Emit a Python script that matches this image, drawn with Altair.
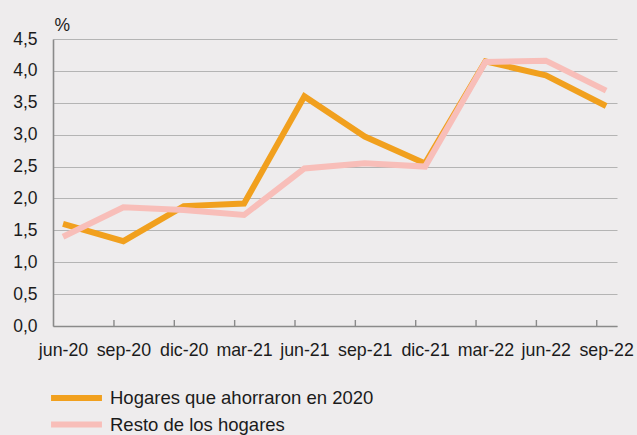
import altair as alt
import pandas as pd

# Quarterly series (%)
periods = ["jun-20", "sep-20", "dic-20", "mar-21", "jun-21",
           "sep-21", "dic-21", "mar-22", "jun-22", "sep-22"]
ahorraron = [1.60, 1.33, 1.88, 1.92, 3.60, 2.97, 2.55, 4.15, 3.93, 3.45]
resto = [1.40, 1.86, 1.82, 1.74, 2.47, 2.55, 2.50, 4.14, 4.16, 3.69]

series_names = ["Hogares que ahorraron en 2020", "Resto de los hogares"]
series_colors = ["#F1A01E", "#F8BEB9"]
y_ticks = [0.0, 0.5, 1.0, 1.5, 2.0, 2.5, 3.0, 3.5, 4.0, 4.5]

FONT = "Liberation Sans"
TEXT = "#1b1b1b"
AXIS_GREY = "#8a8a8a"
GRID_GREY = "#b4b4b4"

rows = []
for name, vals in zip(series_names, [ahorraron, resto]):
    for i, (p, v) in enumerate(zip(periods, vals)):
        rows.append({"idx": i, "periodo": p, "serie": name, "valor": v})
df = pd.DataFrame(rows)
ticks_df = pd.DataFrame({"idx": list(range(1, len(periods)))})

label_expr = "[" + ",".join("'%s'" % p for p in periods) + "][datum.value]"

x_scale = alt.Scale(domain=[-0.166, len(periods) - 1 + 0.18], nice=False, zero=False)
y_scale = alt.Scale(domain=[0, 4.5], nice=False, zero=True)

x_axis = alt.Axis(title=None, values=list(range(len(periods))),
                  labelExpr=label_expr, labelAngle=0, ticks=False,
                  domain=True, domainColor=AXIS_GREY, domainWidth=1.6,
                  grid=False, labelOverlap=False, labelFlush=False,
                  labelFont=FONT, labelFontSize=17.8, labelColor=TEXT,
                  labelPadding=15)
y_axis = alt.Axis(title="%", titleAngle=0, titleAlign="left",
                  titleBaseline="alphabetic", titleX=1, titleY=-9,
                  titleFont=FONT, titleFontSize=17.5,
                  titleFontWeight="normal", titleColor=TEXT,
                  values=y_ticks, ticks=False, domain=True,
                  domainColor=AXIS_GREY, domainWidth=1.6,
                  grid=True, gridColor=GRID_GREY, gridWidth=1.2,
                  labelOverlap=False, labelFlush=False,
                  labelFont=FONT, labelFontSize=17.5, labelColor=TEXT,
                  labelPadding=16,
                  labelExpr="replace(format(datum.value, '.1f'), '.', ',')")

lines = alt.Chart(df).mark_line(
    strokeWidth=6, strokeCap="butt", strokeJoin="miter"
).encode(
    x=alt.X("idx:Q", scale=x_scale, axis=x_axis),
    y=alt.Y("valor:Q", scale=y_scale, axis=y_axis),
    color=alt.Color("serie:N", scale=alt.Scale(domain=series_names, range=series_colors),
                    legend=alt.Legend(orient="none", legendX=14, legendY=349.5,
                                      title=None, direction="vertical",
                                      symbolType="M-4,0H4", symbolSize=162,
                                      symbolStrokeWidth=6, labelLimit=0,
                                      labelFont=FONT, labelFontSize=18.5,
                                      labelColor=TEXT, labelOffset=24,
                                      rowPadding=1.6)),
)

# Inward tick marks on the category axis, set between categories
tick_marks = alt.Chart(ticks_df).mark_rule(
    color=AXIS_GREY, strokeWidth=1.4, xOffset=-9.4
).encode(
    x=alt.X("idx:Q", scale=x_scale, axis=x_axis),
    y=alt.YDatum(0, scale=y_scale, axis=y_axis),
    y2=alt.value(281),
)

chart = alt.layer(lines, tick_marks).properties(
    width=564, height=287,
    autosize=alt.AutoSizeParams(type="none"),
    padding={"left": 53, "top": 39, "right": 20, "bottom": 109},
    background="#EEECED",
).configure_view(stroke=None)

chart.save("out.html", embed_options={"renderer": "svg", "actions": False})
